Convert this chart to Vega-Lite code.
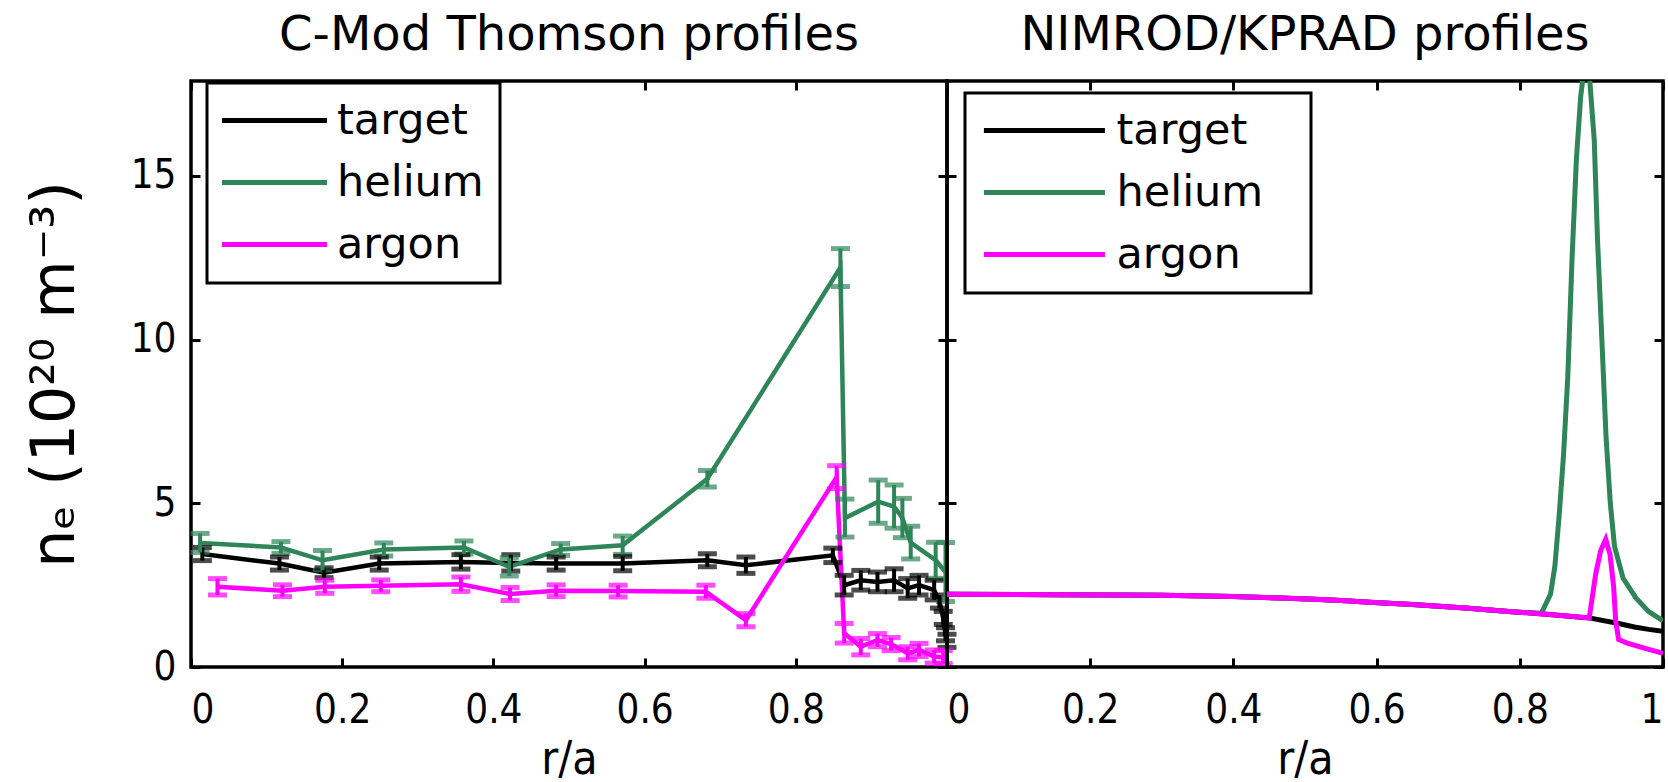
{
  "$schema": "https://vega.github.io/schema/vega-lite/v6.json",
  "background": "white",
  "padding": {"left": 23, "top": 9, "right": 5, "bottom": 0},
  "bounds": "flush",
  "spacing": 0,
  "datasets": {
    "exp": [
      {"s": "target", "r": 0.015, "v": 3.45, "e": 0.2},
      {"s": "target", "r": 0.117, "v": 3.16, "e": 0.2},
      {"s": "target", "r": 0.176, "v": 2.88, "e": 0.15},
      {"s": "target", "r": 0.249, "v": 3.16, "e": 0.2},
      {"s": "target", "r": 0.357, "v": 3.21, "e": 0.22},
      {"s": "target", "r": 0.423, "v": 3.18, "e": 0.25},
      {"s": "target", "r": 0.483, "v": 3.16, "e": 0.2},
      {"s": "target", "r": 0.571, "v": 3.16, "e": 0.22},
      {"s": "target", "r": 0.683, "v": 3.26, "e": 0.2},
      {"s": "target", "r": 0.734, "v": 3.11, "e": 0.25},
      {"s": "target", "r": 0.849, "v": 3.41, "e": 0.22},
      {"s": "target", "r": 0.864, "v": 2.5, "e": 0.3},
      {"s": "target", "r": 0.886, "v": 2.65, "e": 0.3},
      {"s": "target", "r": 0.908, "v": 2.6, "e": 0.3},
      {"s": "target", "r": 0.93, "v": 2.65, "e": 0.35},
      {"s": "target", "r": 0.948, "v": 2.4, "e": 0.3},
      {"s": "target", "r": 0.963, "v": 2.5, "e": 0.3},
      {"s": "target", "r": 0.983, "v": 2.35, "e": 0.3},
      {"s": "target", "r": 0.99, "v": 2.0, "e": 0.2},
      {"s": "target", "r": 0.995, "v": 1.5, "e": 0.2},
      {"s": "target", "r": 0.998, "v": 1.0, "e": 0.2},
      {"s": "target", "r": 1.0, "v": 0.8, "e": 0.2},
      {"s": "helium", "r": 0.012, "v": 3.79, "e": 0.29},
      {"s": "helium", "r": 0.119, "v": 3.65, "e": 0.18},
      {"s": "helium", "r": 0.174, "v": 3.26, "e": 0.3},
      {"s": "helium", "r": 0.255, "v": 3.59, "e": 0.2},
      {"s": "helium", "r": 0.361, "v": 3.65, "e": 0.2},
      {"s": "helium", "r": 0.421, "v": 3.06, "e": 0.28},
      {"s": "helium", "r": 0.489, "v": 3.59, "e": 0.18},
      {"s": "helium", "r": 0.571, "v": 3.72, "e": 0.28},
      {"s": "helium", "r": 0.683, "v": 5.75, "e": 0.25},
      {"s": "helium", "r": 0.859, "v": 12.2, "e": 0.58},
      {"s": "helium", "r": 0.865, "v": 4.55, "e": 0.58},
      {"s": "helium", "r": 0.909, "v": 5.05, "e": 0.66},
      {"s": "helium", "r": 0.93, "v": 4.9, "e": 0.66},
      {"s": "helium", "r": 0.941, "v": 4.55, "e": 0.6},
      {"s": "helium", "r": 0.952, "v": 3.8, "e": 0.5},
      {"s": "helium", "r": 0.985, "v": 3.26, "e": 0.55},
      {"s": "helium", "r": 0.998, "v": 2.9, "e": 0.9},
      {"s": "argon", "r": 0.035, "v": 2.45, "e": 0.25},
      {"s": "argon", "r": 0.121, "v": 2.33, "e": 0.18},
      {"s": "argon", "r": 0.177, "v": 2.45, "e": 0.2},
      {"s": "argon", "r": 0.251, "v": 2.48, "e": 0.18},
      {"s": "argon", "r": 0.357, "v": 2.53, "e": 0.22},
      {"s": "argon", "r": 0.422, "v": 2.23, "e": 0.2},
      {"s": "argon", "r": 0.483, "v": 2.33, "e": 0.18},
      {"s": "argon", "r": 0.565, "v": 2.32, "e": 0.18},
      {"s": "argon", "r": 0.681, "v": 2.3, "e": 0.2},
      {"s": "argon", "r": 0.734, "v": 1.43, "e": 0.2},
      {"s": "argon", "r": 0.854, "v": 5.8, "e": 0.35},
      {"s": "argon", "r": 0.864, "v": 1.03, "e": 0.3},
      {"s": "argon", "r": 0.886, "v": 0.62, "e": 0.25},
      {"s": "argon", "r": 0.908, "v": 0.82, "e": 0.2},
      {"s": "argon", "r": 0.926, "v": 0.7, "e": 0.2},
      {"s": "argon", "r": 0.948, "v": 0.42, "e": 0.2},
      {"s": "argon", "r": 0.963, "v": 0.52, "e": 0.2},
      {"s": "argon", "r": 0.983, "v": 0.32, "e": 0.2},
      {"s": "argon", "r": 0.995, "v": 0.3, "e": 0.2}
    ],
    "sim": [
      {"s": "target", "r": 0.0, "v": 2.22}, {"s": "target", "r": 0.15, "v": 2.21}, {"s": "target", "r": 0.3, "v": 2.19},
      {"s": "target", "r": 0.4, "v": 2.15}, {"s": "target", "r": 0.465, "v": 2.11}, {"s": "target", "r": 0.513, "v": 2.07},
      {"s": "target", "r": 0.551, "v": 2.03}, {"s": "target", "r": 0.59, "v": 1.98}, {"s": "target", "r": 0.65, "v": 1.91},
      {"s": "target", "r": 0.724, "v": 1.8}, {"s": "target", "r": 0.789, "v": 1.69}, {"s": "target", "r": 0.837, "v": 1.61},
      {"s": "target", "r": 0.897, "v": 1.5}, {"s": "target", "r": 0.938, "v": 1.33}, {"s": "target", "r": 0.96, "v": 1.22},
      {"s": "target", "r": 0.98, "v": 1.15}, {"s": "target", "r": 1.0, "v": 1.09},
      {"s": "helium", "r": 0.0, "v": 2.22}, {"s": "helium", "r": 0.15, "v": 2.21}, {"s": "helium", "r": 0.3, "v": 2.19},
      {"s": "helium", "r": 0.4, "v": 2.15}, {"s": "helium", "r": 0.465, "v": 2.11}, {"s": "helium", "r": 0.513, "v": 2.07},
      {"s": "helium", "r": 0.551, "v": 2.03}, {"s": "helium", "r": 0.59, "v": 1.98}, {"s": "helium", "r": 0.65, "v": 1.91},
      {"s": "helium", "r": 0.724, "v": 1.8}, {"s": "helium", "r": 0.789, "v": 1.69}, {"s": "helium", "r": 0.83, "v": 1.64},
      {"s": "helium", "r": 0.843, "v": 2.23}, {"s": "helium", "r": 0.849, "v": 3.08}, {"s": "helium", "r": 0.855, "v": 4.64},
      {"s": "helium", "r": 0.861, "v": 6.45}, {"s": "helium", "r": 0.867, "v": 8.86}, {"s": "helium", "r": 0.873, "v": 12.48},
      {"s": "helium", "r": 0.879, "v": 15.49}, {"s": "helium", "r": 0.885, "v": 17.42}, {"s": "helium", "r": 0.894, "v": 19.0},
      {"s": "helium", "r": 0.904, "v": 16.09}, {"s": "helium", "r": 0.9085, "v": 13.08}, {"s": "helium", "r": 0.9145, "v": 10.07},
      {"s": "helium", "r": 0.9204, "v": 7.05}, {"s": "helium", "r": 0.9264, "v": 5.0}, {"s": "helium", "r": 0.9323, "v": 3.68},
      {"s": "helium", "r": 0.9443, "v": 2.71}, {"s": "helium", "r": 0.9622, "v": 2.11}, {"s": "helium", "r": 0.98, "v": 1.69},
      {"s": "helium", "r": 1.0, "v": 1.41},
      {"s": "argon", "r": 0.0, "v": 2.22}, {"s": "argon", "r": 0.15, "v": 2.21}, {"s": "argon", "r": 0.3, "v": 2.19},
      {"s": "argon", "r": 0.4, "v": 2.15}, {"s": "argon", "r": 0.465, "v": 2.11}, {"s": "argon", "r": 0.513, "v": 2.07},
      {"s": "argon", "r": 0.551, "v": 2.03}, {"s": "argon", "r": 0.59, "v": 1.98}, {"s": "argon", "r": 0.65, "v": 1.91},
      {"s": "argon", "r": 0.724, "v": 1.8}, {"s": "argon", "r": 0.789, "v": 1.69}, {"s": "argon", "r": 0.837, "v": 1.61},
      {"s": "argon", "r": 0.897, "v": 1.5}, {"s": "argon", "r": 0.906, "v": 2.84}, {"s": "argon", "r": 0.913, "v": 3.56},
      {"s": "argon", "r": 0.92, "v": 3.9}, {"s": "argon", "r": 0.926, "v": 3.44}, {"s": "argon", "r": 0.931, "v": 2.47},
      {"s": "argon", "r": 0.934, "v": 1.39}, {"s": "argon", "r": 0.938, "v": 0.84}, {"s": "argon", "r": 0.95, "v": 0.73},
      {"s": "argon", "r": 0.98, "v": 0.54}, {"s": "argon", "r": 1.0, "v": 0.42}
    ]
  },
  "config": {
    "view": {"stroke": "black", "strokeWidth": 3.5},
    "axis": {
      "grid": false, "domain": false, "tickColor": "black", "tickWidth": 3, "tickSize": -9,
      "labelFont": "DejaVu Sans Condensed, Liberation Sans", "labelFontSize": 40, "labelColor": "black",
      "titleFont": "DejaVu Sans Condensed, Liberation Sans", "titleFontSize": 46, "titleFontWeight": "normal", "titleColor": "black",
      "minExtent": 0
    },
    "title": {"font": "DejaVu Sans", "fontSize": 48, "fontWeight": "normal", "color": "black", "offset": 20},
    "legend": {
      "orient": "none", "title": null, "strokeColor": "black", "fillColor": "white", "strokeWidth": 3,
      "labelFont": "DejaVu Sans", "labelFontSize": 43, "labelColor": "black", "labelLimit": 400,
      "symbolStrokeWidth": 5, "padding": 16, "rowPadding": 18
    }
  },
  "resolve": {"scale": {"color": "independent", "x": "independent", "y": "independent"}, "legend": {"color": "independent"}},
  "hconcat": [
    {
      "width": 756, "height": 586,
      "title": "C-Mod Thomson profiles",
      "data": {"name": "exp"},
      "resolve": {"axis": {"x": "independent", "y": "independent"}},
      "layer": [
        {
          "mark": {"type": "line", "strokeWidth": 4.5, "clip": true},
          "encoding": {
            "x": {"field": "r", "type": "quantitative", "scale": {"domain": [0, 1], "nice": false},
                  "axis": {"orient": "bottom", "values": [0, 0.2, 0.4, 0.6, 0.8], "format": "~g", "title": "r/a", "labelPadding": 32, "titlePadding": 7}},
            "y": {"field": "v", "type": "quantitative", "scale": {"domain": [0, 17.9], "nice": false, "zero": false},
                  "axis": {"orient": "left", "values": [0, 5, 10, 15], "title": "nₑ (10²⁰ m⁻³)", "titleFont": "DejaVu Sans", "titleFontSize": 60,
                           "labelPadding": 24, "minExtent": 60, "maxExtent": 60, "titlePadding": 45}},
            "color": {"field": "s", "type": "nominal",
                      "scale": {"domain": ["target", "helium", "argon"], "range": ["#000000", "#2e8558", "#ff00ff"]},
                      "legend": {"legendX": 16, "legendY": 2, "symbolType": "M-1,0H9", "symbolSize": 441,
                                 "symbolOffset": -12, "labelOffset": 83}}
          }
        },
        {
          "mark": {"type": "errorbar", "ticks": {"size": 19, "thickness": 5}, "rule": {"strokeWidth": 4}},
          "encoding": {
            "x": {"field": "r", "type": "quantitative", "axis": null},
            "y": {"field": "v", "type": "quantitative", "axis": null},
            "yError": {"field": "e"},
            "color": {"field": "s", "type": "nominal", "legend": null}
          }
        },
        {
          "mark": {"type": "point", "opacity": 0, "clip": true},
          "encoding": {
            "x": {"field": "r", "type": "quantitative",
                  "axis": {"orient": "top", "labels": false, "title": null, "values": [0, 0.2, 0.4, 0.6, 0.8], "maxExtent": 0}},
            "y": {"field": "v", "type": "quantitative",
                  "axis": {"orient": "right", "labels": false, "title": null, "values": [0, 5, 10, 15], "maxExtent": 0}}
          }
        }
      ]
    },
    {
      "width": 716, "height": 586,
      "title": "NIMROD/KPRAD profiles",
      "data": {"name": "sim"},
      "resolve": {"axis": {"x": "independent", "y": "independent"}},
      "layer": [
        {
          "mark": {"type": "line", "strokeWidth": 5, "clip": true},
          "encoding": {
            "x": {"field": "r", "type": "quantitative", "scale": {"domain": [0, 1], "nice": false},
                  "axis": {"orient": "bottom", "values": [0, 0.2, 0.4, 0.6, 0.8, 1], "format": "~g", "title": "r/a", "labelPadding": 32, "titlePadding": 7}},
            "y": {"field": "v", "type": "quantitative", "scale": {"domain": [0, 17.9], "nice": false, "zero": false},
                  "axis": {"orient": "left", "values": [0, 5, 10, 15], "labels": false, "title": null, "maxExtent": 0}},
            "color": {"field": "s", "type": "nominal",
                      "scale": {"domain": ["target", "helium", "argon"], "range": ["#000000", "#2e8558", "#ff00ff"]},
                      "legend": {"legendX": 18, "legendY": 12, "symbolType": "M-1,0H9", "symbolSize": 586,
                                 "symbolOffset": -6.5, "labelOffset": 99, "labelExpr": "datum.label + '\u2800'"}}
          }
        },
        {
          "mark": {"type": "point", "opacity": 0, "clip": true},
          "encoding": {
            "x": {"field": "r", "type": "quantitative",
                  "axis": {"orient": "top", "labels": false, "title": null, "values": [0, 0.2, 0.4, 0.6, 0.8, 1], "maxExtent": 0}},
            "y": {"field": "v", "type": "quantitative",
                  "axis": {"orient": "right", "labels": false, "title": null, "values": [0, 5, 10, 15], "maxExtent": 0}}
          }
        }
      ]
    }
  ]
}
